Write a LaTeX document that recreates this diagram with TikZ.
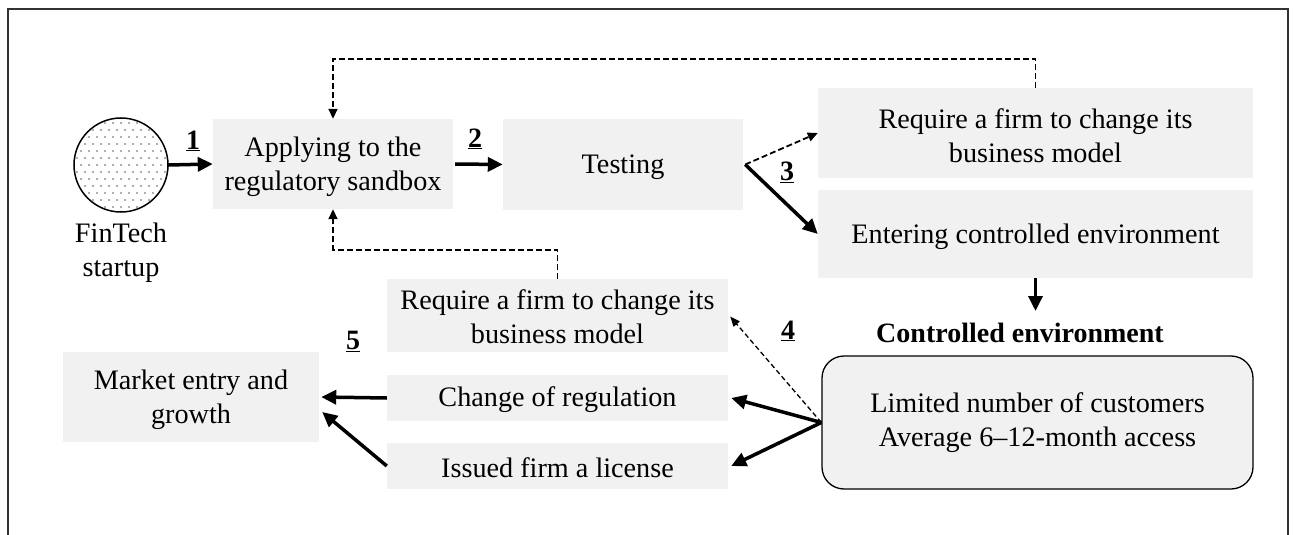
\documentclass[tikz,border=0pt]{standalone}
\usepackage{fontspec}
\setmainfont{Liberation Serif}
\usetikzlibrary{arrows.meta,calc}
\definecolor{boxgray}{RGB}{241,241,241}
\definecolor{framegray}{RGB}{50,50,50}
\definecolor{dotgray}{RGB}{95,95,95}
\begin{document}
\begin{tikzpicture}[x=1pt,y=-1pt,
  every node/.style={font=\fontsize{28.2}{34}\selectfont, align=center, inner sep=0pt},
  stagebox/.style={fill=boxgray},
  envbox/.style={fill=boxgray, draw=black, line width=1.3pt, rounded corners=22pt},
  num/.style={font=\fontsize{28}{33}\selectfont\bfseries},
  flow/.style={line width=3.5pt, -{Triangle[length=15pt,width=14pt]}},
  alt/.style={line width=1.8pt, dash pattern=on 6pt off 3pt, -{Triangle[length=10pt,width=9pt]}},
  altthin/.style={line width=1.3pt, dash pattern=on 5pt off 3pt, -{Triangle[length=10pt,width=8pt]}}
]
\useasboundingbox (0,0) rectangle (1294,535);
\fill[white] (0,0) rectangle (1294,535);

% outer frame, open at the bottom
\draw[framegray, line width=1.5pt] (8,535) -- (8,9) -- (1288,9) -- (1288,535);

% start node with a dotted fill
\node[circle, minimum size=94pt] (fin) at (121,165) {};
\begin{scope}
  \clip (fin.center) circle (46pt);
  \foreach \i in {-6,...,6}{
    \foreach \j in {-4,...,4}{
      \fill[dotgray] ($(fin.center)+(\i*8,\j*14)$) circle (0.95pt);
      \fill[dotgray] ($(fin.center)+(\i*8+4,\j*14+7)$) circle (0.95pt);
    }
  }
\end{scope}
\draw[line width=1.5pt] (fin.center) circle (47pt);
\node (finlbl) at (121,253) {FinTech\\startup};

% stage boxes
\node[stagebox, minimum width=240pt, minimum height=90pt] (appl) at (333,164) {};
\node[stagebox, minimum width=240pt, minimum height=91pt] (test) at (623,164.5) {};
\node[stagebox, minimum width=435pt, minimum height=90pt] (req1) at (1035.5,133) {};
\node[stagebox, minimum width=435pt, minimum height=88pt] (enter) at (1035.5,234) {};
\node[envbox, minimum width=431pt, minimum height=133pt] (env) at (1037.5,422.5) {};
\node[stagebox, minimum width=341pt, minimum height=73pt] (req2) at (557.5,315.5) {};
\node[stagebox, minimum width=341pt, minimum height=46pt] (chg) at (557.5,398) {};
\node[stagebox, minimum width=341pt, minimum height=46pt] (lic) at (557.5,466) {};
\node[stagebox, minimum width=256pt, minimum height=90pt] (mkt) at (191,397) {};

% box texts
\node (applt) at ($(appl)+(0,3)$) {Applying to the\\regulatory sandbox};
\node (testt) at ($(test)+(0,3)$) {Testing};
\node (req1t) at ($(req1)+(0,3)$) {Require a firm to change its\\business model};
\node (entert) at ($(enter)+(0,3)$) {Entering controlled environment};
\node (envt) at ($(env)+(0,0)$) {Limited number of customers\\Average 6--12-month access};
\node (req2t) at ($(req2)+(0,1)$) {Require a firm to change its\\business model};
\node (chgt) at ($(chg)+(0,2)$) {Change of regulation};
\node (lict) at ($(lic)+(0,2)$) {Issued firm a license};
\node (mktt) at ($(mkt)+(0,3)$) {Market entry and\\growth};
\node[num] (ctrl) at (1020,333) {Controlled environment};

% step numbers
\node[num] (n1) at (193,141) {\underline{1}};
\node[num] (n2) at (475,139) {\underline{2}};
\node[num] (n3) at (787,172) {\underline{3}};
\node[num] (n4) at (788,331) {\underline{4}};
\node[num] (n5) at (353,341) {\underline{5}};

% main flow
\draw[flow] (fin.east) -- (appl.west);
\draw[flow] (test.east) ++(2,0) coordinate (split) -- (enter.west);
\draw[flow] (appl.east) ++(2,0) -- (test.west);
\draw[alt] (split) -- (req1.west);
\draw[flow] (enter.south) -- (enter.south |- 0,311);

% feedback loops back to the application
\draw[alt] (req1.north) -- ++(0,-29) -| (appl.north);
\draw[alt] (req2.north) -- ++(0,-29) -| (appl.south);

% outcomes of the controlled environment
\draw[altthin] (env.west) -- ($(req2.east)+(2,1)$);
\draw[flow] (env.west) -- ($(chg.east)+(3,0)$);
\draw[flow] (env.west) -- ($(lic.east)+(3,0)$);

% market entry
\draw[flow] (chg.west) -- ($(mkt.east)+(2,0)$);
\draw[flow] (lic.west) -- ($(mkt.east)+(3,15)$);
\end{tikzpicture}
\end{document}
